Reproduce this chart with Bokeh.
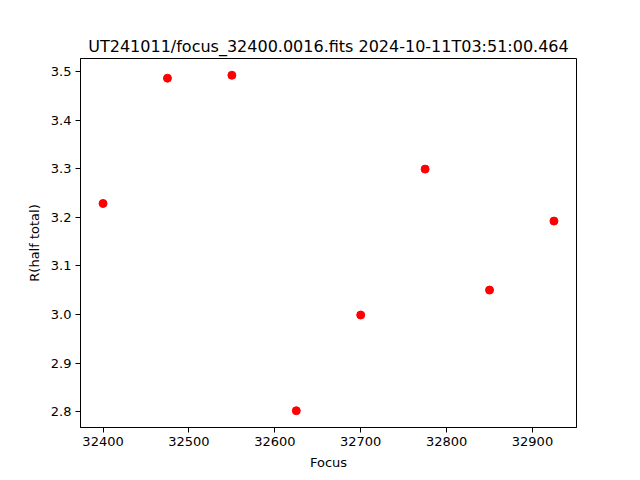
from bokeh.plotting import figure
from bokeh.models import Range1d, FixedTicker, NumeralTickFormatter
from bokeh.embed import file_html
from bokeh.resources import INLINE

focus = [32400, 32475, 32550, 32625, 32700, 32775, 32850, 32925]
r_half = [3.2285, 3.486, 3.492, 2.8025, 2.9992, 3.2991, 3.0505, 3.1923]
x_ticks = [32400, 32500, 32600, 32700, 32800, 32900]
y_ticks = [2.8, 2.9, 3.0, 3.1, 3.2, 3.3, 3.4, 3.5]

xpad = (max(focus) - min(focus)) * 0.05
ypad = (max(r_half) - min(r_half)) * 0.05

p = figure(width=640, height=480, output_backend="svg", toolbar_location=None,
           x_range=Range1d(min(focus) - xpad, max(focus) + xpad),
           y_range=Range1d(min(r_half) - ypad, max(r_half) + ypad),
           title="UT241011/focus_32400.0016.fits 2024-10-11T03:51:00.464",
           min_border_left=80, min_border_right=64, min_border_top=58, min_border_bottom=53)

p.title.align = "center"
p.title.text_font = "DejaVu Sans"
p.title.text_font_size = "16px"
p.title.text_font_style = "normal"
p.title.text_color = "black"
p.title.offset = 0
p.title.standoff = 5

p.outline_line_color = "black"
p.outline_line_width = 1
p.outline_line_alpha = 1
p.xgrid.visible = False
p.ygrid.visible = False

p.scatter(focus, r_half, size=8, color="red", line_color="red")

for ax in (p.xaxis, p.yaxis):
    ax.axis_line_color = "black"
    ax.major_tick_line_color = "black"
    ax.major_tick_out = 5
    ax.major_tick_in = 0
    ax.minor_tick_line_color = None
    ax.major_label_text_font = "DejaVu Sans"
    ax.major_label_text_font_size = "13px"
    ax.major_label_text_color = "black"
    ax.axis_label_text_font = "DejaVu Sans"
    ax.axis_label_text_font_size = "13px"
    ax.axis_label_text_font_style = "normal"
    ax.axis_label_text_color = "black"
    ax.major_label_standoff = 4

p.xaxis.ticker = FixedTicker(ticks=x_ticks)
p.yaxis.ticker = FixedTicker(ticks=y_ticks)
p.yaxis.formatter = NumeralTickFormatter(format="0.0")
p.xaxis.axis_label = "Focus"
p.yaxis.axis_label = "R(half total)"
p.xaxis.axis_label_standoff = 6
p.yaxis.axis_label_standoff = 6

open("out.html", "w").write(file_html(p, INLINE))
